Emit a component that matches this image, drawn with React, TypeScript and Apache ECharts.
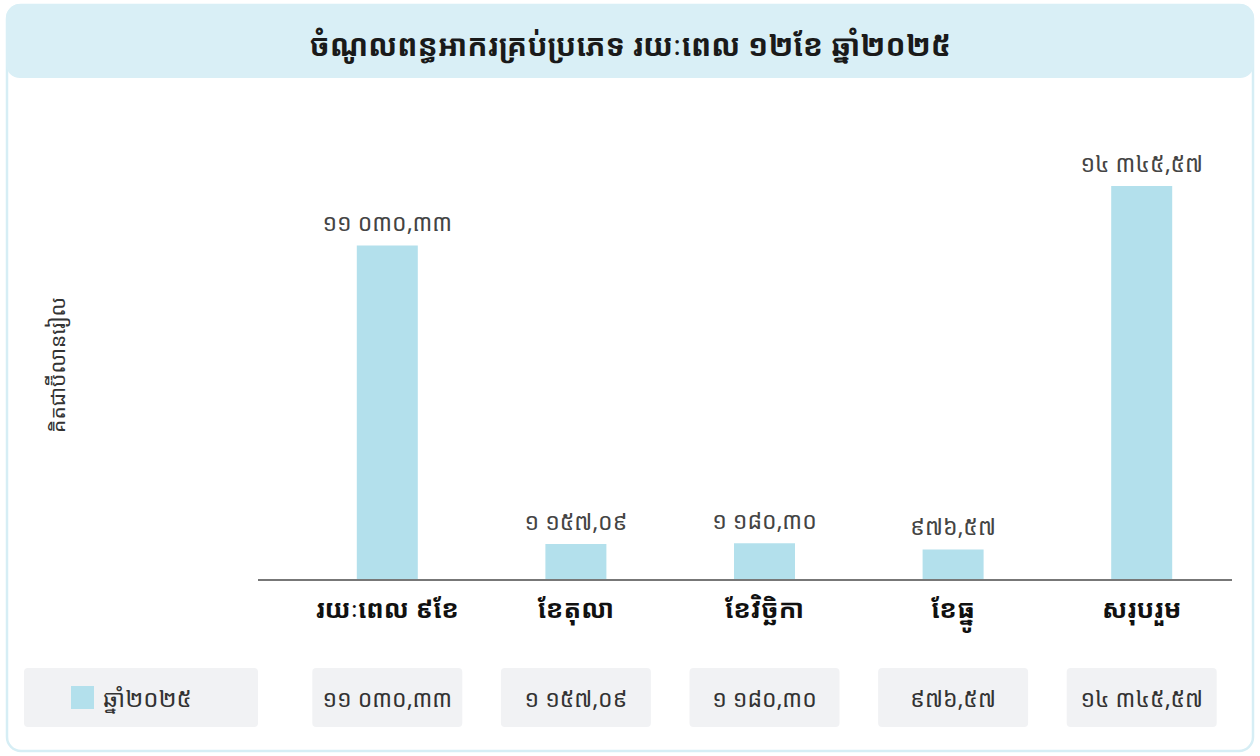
import React, { useEffect, useRef } from "react";
import * as echarts from "echarts";

const title = "ចំណូលពន្ធអាករគ្រប់ប្រភេទ រយៈពេល ១២ខែ ឆ្នាំ២០២៥";
const yAxisName = "គិតជាប៊ីលានរៀល";
const categories = ["រយៈពេល ៩ខែ", "ខែតុលា", "ខែវិច្ឆិកា", "ខែធ្នូ", "សរុបរួម"];
const seriesName = "ឆ្នាំ២០២៥";
const values = [11030.33, 1157.09, 1180.3, 976.57, 14345.57];
const yMin = 0;
const yMax = 13000;

const KH_DIGITS = ["០", "១", "២", "៣", "៤", "៥", "៦", "៧", "៨", "៩"];
function khmerNum(v: number): string {
  const [intPart, decPart] = v.toFixed(2).split(".");
  const grouped = intPart.replace(/\B(?=(\d{3})+(?!\d))/g, " ");
  const s = grouped + "," + decPart;
  return s.replace(/\d/g, (d) => KH_DIGITS[+d]);
}

const FONT = "'Noto Sans Khmer', 'Khmer OS', 'Khmer OS System', 'Noto Sans', sans-serif";
const BAR_COLOR = "#b3e0ec";
const W = 1260;
const H = 756;
const GRID_LEFT = 293;
const GRID_RIGHT = 24;
const GRID_TOP = 186;
const GRID_BOTTOM = 177;

export default function App() {
  const ref = useRef<HTMLDivElement>(null);
  useEffect(() => {
    document.body.style.margin = "0";
    const chart = echarts.init(ref.current!, null, { renderer: "svg" });
    const band = (W - GRID_LEFT - GRID_RIGHT) / categories.length;
    const cellW = 150;
    const cellY = 668;
    const cellH = 59;
    const tableCells: any[] = values.map((v, i) => {
      const cx = GRID_LEFT + band * (i + 0.5);
      return {
        type: "group",
        children: [
          {
            type: "rect",
            shape: { x: cx - cellW / 2, y: cellY, width: cellW, height: cellH, r: 4 },
            style: { fill: "#f1f2f4" },
          },
          {
            type: "text",
            x: cx,
            y: cellY + cellH / 2,
            style: {
              text: khmerNum(v),
              fontSize: 23,
              fontFamily: FONT,
              fill: "#333",
              align: "center",
              verticalAlign: "middle",
            },
          },
        ],
      };
    });

    chart.setOption({
      animation: false,
      backgroundColor: "#ffffff",
      grid: { left: GRID_LEFT, right: GRID_RIGHT, top: GRID_TOP, bottom: GRID_BOTTOM },
      xAxis: {
        type: "category",
        data: categories,
        axisLine: { show: false },
        axisTick: { show: false },
        axisLabel: {
          margin: 16,
          fontSize: 26,
          fontWeight: "bold",
          color: "#111",
          fontFamily: FONT,
        },
      },
      yAxis: {
        type: "value",
        min: yMin,
        max: yMax,
        show: false,
        splitLine: { show: false },
      },
      series: [
        {
          type: "bar",
          name: seriesName,
          data: values,
          barWidth: 61,
          itemStyle: { color: BAR_COLOR },
          clip: true,
          label: {
            show: true,
            position: "top",
            distance: 12,
            fontSize: 23,
            color: "#444",
            fontFamily: FONT,
            formatter: (p: any) => khmerNum(p.value),
          },
        },
      ],
      graphic: [
        {
          type: "rect",
          z: -10,
          shape: { x: 7, y: 5, width: 1246, height: 746, r: 14 },
          style: { fill: "#ffffff", stroke: "#d6eef5", lineWidth: 2.5 },
        },
        {
          type: "rect",
          z: -9,
          shape: { x: 6, y: 4, width: 1248, height: 74, r: 14 },
          style: { fill: "#d9eff6" },
        },
        {
          type: "text",
          x: 630,
          y: 44,
          style: {
            text: title,
            fontSize: 30,
            fontWeight: "bold",
            fontFamily: FONT,
            fill: "#1a1a1a",
            align: "center",
            verticalAlign: "middle",
          },
        },
        {
          type: "text",
          x: 57,
          y: 365,
          rotation: Math.PI / 2,
          style: {
            text: yAxisName,
            fontSize: 21,
            fontFamily: FONT,
            fill: "#333",
            align: "center",
            verticalAlign: "middle",
          },
        },
        {
          type: "line",
          shape: { x1: 258, y1: 580, x2: 1232, y2: 580 },
          style: { stroke: "#777", lineWidth: 2 },
        },
        {
          type: "rect",
          shape: { x: 24, y: cellY, width: 234, height: cellH, r: 4 },
          style: { fill: "#f1f2f4" },
        },
        {
          type: "rect",
          shape: { x: 71, y: 686, width: 23, height: 23 },
          style: { fill: BAR_COLOR },
        },
        {
          type: "text",
          x: 103,
          y: cellY + cellH / 2,
          style: {
            text: seriesName,
            fontSize: 24,
            fontFamily: FONT,
            fill: "#333",
            align: "left",
            verticalAlign: "middle",
          },
        },
        ...tableCells,
      ],
    });
    return () => chart.dispose();
  }, []);
  return <div ref={ref} style={{ position: "absolute", left: 0, top: 0, width: W, height: H }} />;
}
